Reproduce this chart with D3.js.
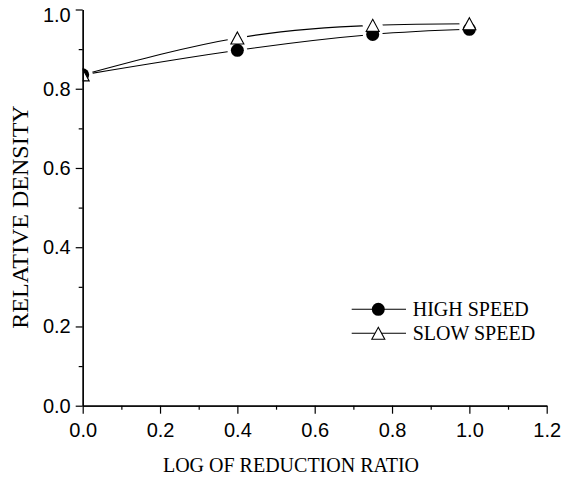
<html>
  <script src="https://d3js.org/d3.v7.min.js"></script>
  <style>
    body { margin: 0; background: #fff; }
    svg text { fill: black; }
    .tick text { font-family: "Liberation Sans", Arial, sans-serif; font-size: 20px; }
    .title { font-family: "Liberation Serif", "Times New Roman", serif; font-size: 20px; }
  </style>
  <body>
    <svg width="564" height="478"></svg>
    <script>
      // data
      var logRatio = [0.0, 0.4, 0.75, 1.0];
      var highSpeed = [0.835, 0.897, 0.937, 0.95];
      var slowSpeed = [0.835, 0.928, 0.96, 0.964];
      var xTicks = [0, 0.2, 0.4, 0.6, 0.8, 1.0, 1.2];
      var yTicks = [0, 0.2, 0.4, 0.6, 0.8, 1.0];

      var lmargin = 82.7;
      var tmargin = 9.5;
      var width = 464;
      var height = 396.2;

      var svg = d3.select("svg");
      var g = svg.append("g")
        .attr("transform", "translate(" + lmargin + "," + tmargin + ")");

      var x = d3.scaleLinear().domain([0, 1.2]).range([0, width]);
      var y = d3.scaleLinear().domain([0, 1]).range([height, 0]);

      // clip so the markers at x=0 get cut at the axis
      svg.append("defs").append("clipPath").attr("id", "plotclip")
        .append("rect").attr("x", 0).attr("y", -20)
        .attr("width", width + 20).attr("height", height + 20);

      var series = [
        { name: "HIGH SPEED", values: highSpeed, sym: "circle" },
        { name: "SLOW SPEED", values: slowSpeed, sym: "triangle" }
      ];

      var line = d3.line()
        .x(function (d) { return x(d[0]); })
        .y(function (d) { return y(d[1]); })
        .curve(d3.curveNatural);

      var plot = g.append("g").attr("clip-path", "url(#plotclip)");

      series.forEach(function (s) {
        plot.append("path")
          .datum(logRatio.map(function (v, i) { return [v, s.values[i]]; }))
          .attr("d", line)
          .attr("fill", "none")
          .attr("stroke", "black")
          .attr("stroke-width", 1.1);
      });

      // white gaps where lines meet the markers
      series.forEach(function (s) {
        plot.selectAll(null)
          .data(logRatio.map(function (v, i) { return [v, s.values[i]]; }))
          .enter().append("circle")
          .attr("cx", function (d) { return x(d[0]); })
          .attr("cy", function (d) { return y(d[1]); })
          .attr("r", 10)
          .attr("fill", "white");
      });

      var tri = "M0,-6L6.5,6L-6.5,6Z";

      function drawMarker(sel, sym) {
        if (sym == "circle") {
          sel.append("circle").attr("r", 6.5).attr("fill", "black");
        } else {
          sel.append("path").attr("d", tri)
            .attr("fill", "white").attr("stroke", "black").attr("stroke-width", 1.1);
        }
      }

      series.forEach(function (s) {
        var m = plot.selectAll(null)
          .data(logRatio.map(function (v, i) { return [v, s.values[i]]; }))
          .enter().append("g")
          .attr("transform", function (d) {
            return "translate(" + x(d[0]) + "," + y(d[1]) + ")";
          });
        drawMarker(m, s.sym);
      });

      // axes
      function minor(ticks) {
        var out = [];
        for (var i = 0; i < ticks.length - 1; i++) out.push((ticks[i] + ticks[i + 1]) / 2);
        return out;
      }

      var xa = g.append("g").attr("transform", "translate(0," + height + ")");
      xa.call(d3.axisBottom(x).tickValues(minor(xTicks)).tickSize(4).tickSizeOuter(0).tickFormat(""));
      xa.append("g").call(d3.axisBottom(x).tickValues(xTicks).tickSize(8).tickSizeOuter(0)
        .tickPadding(9).tickFormat(d3.format(".1f")));

      var ya = g.append("g");
      ya.call(d3.axisLeft(y).tickValues(minor(yTicks)).tickSize(4).tickSizeOuter(0).tickFormat(""));
      ya.append("g").call(d3.axisLeft(y).tickValues(yTicks).tickSize(7).tickSizeOuter(0)
        .tickPadding(5).tickFormat(d3.format(".1f")));

      // top label sits a bit below its tick, like the original
      ya.selectAll(".tick text").filter(function (d) { return d == 1; })
        .attr("dy", "0.62em");

      g.selectAll(".domain").attr("stroke", "black").attr("stroke-width", 1.3);
      g.selectAll(".tick line").attr("stroke", "black").attr("stroke-width", 1.2);
      g.selectAll(".tick text").attr("fill", "black");

      // axis titles
      svg.append("text").attr("class", "title")
        .attr("text-anchor", "middle")
        .attr("x", 291)
        .attr("y", 472)
        .text("LOG OF REDUCTION RATIO");

      svg.append("text").attr("class", "title")
        .attr("text-anchor", "middle")
        .style("font-size", "24px")
        .attr("transform", "translate(28,217) rotate(-90)")
        .text("RELATIVE DENSITY");

      // legend
      var legend = svg.append("g");
      series.forEach(function (s, i) {
        var ly = 309.3 + i * 24;
        var row = legend.append("g");
        row.append("line")
          .attr("x1", 351.7).attr("x2", 406)
          .attr("y1", ly).attr("y2", ly)
          .attr("stroke", "black").attr("stroke-width", 1.1);
        var m = row.append("g").attr("transform", "translate(378.3," + ly + ")");
        drawMarker(m, s.sym);
        row.append("text").attr("class", "title")
          .attr("x", 412.7).attr("y", ly + 6.5)
          .text(s.name);
      });
    </script>
  </body>
</html>
